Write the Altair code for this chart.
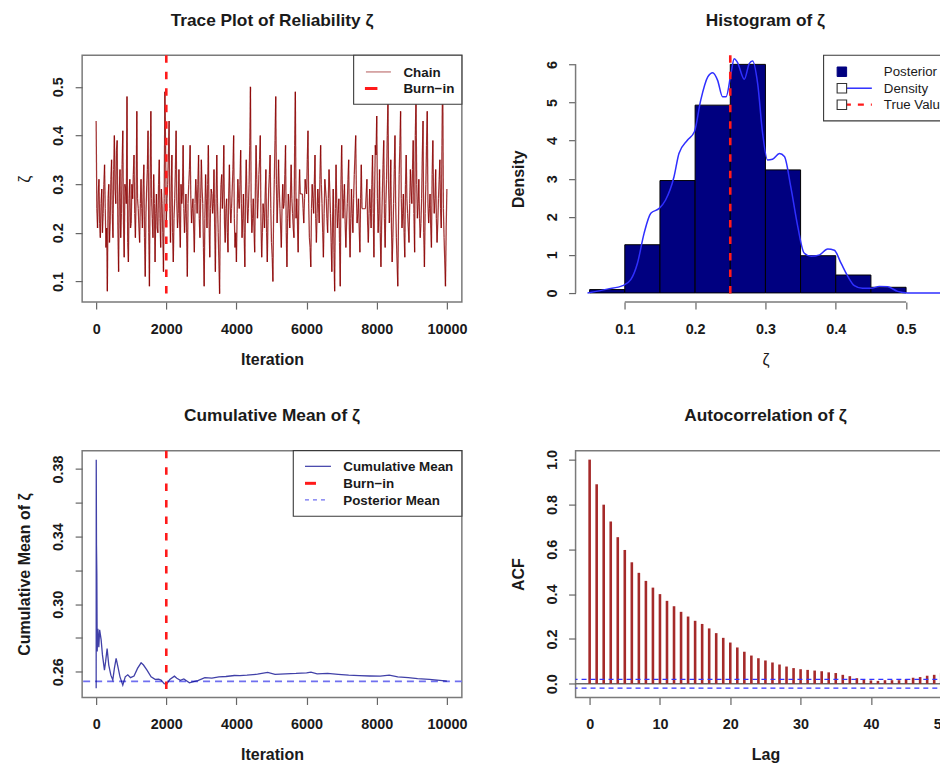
import altair as alt
import pandas as pd

FONT = "Liberation Sans"
TXT = "#1a1a1a"
BOX = "#7a7a7a"

# ---------------- data ----------------
trace_iterations = list(range(0, 10001, 20))
trace_values = [
    0.43, 0.25, 0.21, 0.28, 0.31, 0.22, 0.19, 0.26, 0.29, 0.20, 0.24, 0.30, 0.34, 0.25, 0.17, 0.21, 0.08, 0.27, 0.30, 0.18, 0.22, 0.31, 0.35, 0.24, 0.19,
    0.33, 0.40, 0.29, 0.26, 0.37, 0.39, 0.21, 0.12, 0.28, 0.33, 0.19, 0.24, 0.34, 0.41, 0.22, 0.15, 0.30, 0.29, 0.26, 0.48, 0.18, 0.14, 0.27, 0.31, 0.21,
    0.22, 0.30, 0.27, 0.32, 0.36, 0.24, 0.19, 0.28, 0.45, 0.27, 0.25, 0.21, 0.18, 0.26, 0.31, 0.25, 0.21, 0.29, 0.34, 0.19, 0.11, 0.24, 0.29, 0.33, 0.41,
    0.20, 0.09, 0.31, 0.45, 0.27, 0.23, 0.19, 0.32, 0.26, 0.14, 0.24, 0.28, 0.21, 0.20, 0.30, 0.35, 0.23, 0.17, 0.29, 0.26, 0.20, 0.12, 0.27, 0.49, 0.38,
    0.22, 0.27, 0.30, 0.36, 0.43, 0.25, 0.18, 0.29, 0.36, 0.20, 0.14, 0.23, 0.27, 0.33, 0.41, 0.26, 0.21, 0.24, 0.33, 0.22, 0.17, 0.30, 0.26, 0.28, 0.38,
    0.25, 0.20, 0.24, 0.28, 0.20, 0.11, 0.26, 0.30, 0.33, 0.38, 0.27, 0.22, 0.25, 0.27, 0.21, 0.16, 0.26, 0.31, 0.28, 0.24, 0.30, 0.36, 0.23, 0.19, 0.27,
    0.35, 0.29, 0.26, 0.17, 0.09, 0.23, 0.32, 0.27, 0.21, 0.30, 0.38, 0.22, 0.15, 0.25, 0.29, 0.28, 0.24, 0.26, 0.33, 0.21, 0.12, 0.27, 0.36, 0.26, 0.20,
    0.14, 0.075, 0.24, 0.30, 0.32, 0.25, 0.29, 0.38, 0.22, 0.18, 0.25, 0.27, 0.20, 0.16, 0.28, 0.34, 0.26, 0.22, 0.25, 0.29, 0.33, 0.40, 0.23, 0.17, 0.20,
    0.14, 0.24, 0.31, 0.27, 0.25, 0.30, 0.37, 0.26, 0.19, 0.23, 0.28, 0.20, 0.13, 0.29, 0.35, 0.27, 0.22, 0.25, 0.30, 0.38, 0.50, 0.26, 0.20, 0.23, 0.27,
    0.21, 0.16, 0.29, 0.38, 0.31, 0.23, 0.27, 0.32, 0.35, 0.40, 0.22, 0.15, 0.20, 0.26, 0.24, 0.21, 0.28, 0.33, 0.20, 0.14, 0.23, 0.29, 0.32, 0.36, 0.25,
    0.18, 0.15, 0.10, 0.24, 0.31, 0.39, 0.48, 0.30, 0.22, 0.27, 0.35, 0.29, 0.25, 0.21, 0.17, 0.25, 0.30, 0.25, 0.26, 0.32, 0.38, 0.20, 0.13, 0.23, 0.28,
    0.25, 0.21, 0.28, 0.34, 0.27, 0.24, 0.21, 0.19, 0.38, 0.49, 0.23, 0.27, 0.22, 0.16, 0.27, 0.33, 0.28, 0.28, 0.28, 0.28, 0.25, 0.22, 0.27, 0.31, 0.29,
    0.28, 0.35, 0.41, 0.26, 0.19, 0.17, 0.13, 0.25, 0.30, 0.27, 0.24, 0.30, 0.36, 0.23, 0.18, 0.24, 0.29, 0.26, 0.22, 0.31, 0.38, 0.30, 0.26, 0.20, 0.15,
    0.24, 0.31, 0.29, 0.27, 0.23, 0.20, 0.27, 0.33, 0.29, 0.24, 0.18, 0.12, 0.22, 0.29, 0.16, 0.08, 0.25, 0.34, 0.26, 0.21, 0.24, 0.27, 0.18, 0.09, 0.30,
    0.38, 0.29, 0.23, 0.27, 0.30, 0.22, 0.17, 0.22, 0.26, 0.31, 0.35, 0.21, 0.15, 0.23, 0.29, 0.24, 0.20, 0.27, 0.32, 0.36, 0.40, 0.28, 0.22, 0.24, 0.27,
    0.21, 0.16, 0.27, 0.34, 0.25, 0.25, 0.25, 0.25, 0.25, 0.25, 0.28, 0.31, 0.22, 0.18, 0.24, 0.29, 0.25, 0.21, 0.30, 0.36, 0.24, 0.15, 0.29, 0.38, 0.36,
    0.44, 0.27, 0.20, 0.24, 0.33, 0.20, 0.13, 0.22, 0.28, 0.34, 0.39, 0.23, 0.17, 0.26, 0.31, 0.40, 0.47, 0.29, 0.22, 0.27, 0.35, 0.21, 0.14, 0.19, 0.26,
    0.33, 0.40, 0.26, 0.19, 0.14, 0.09, 0.22, 0.32, 0.38, 0.45, 0.27, 0.21, 0.24, 0.28, 0.20, 0.15, 0.30, 0.36, 0.27, 0.24, 0.21, 0.18, 0.26, 0.33, 0.29,
    0.26, 0.33, 0.39, 0.24, 0.16, 0.40, 0.48, 0.30, 0.23, 0.26, 0.31, 0.23, 0.19, 0.22, 0.27, 0.36, 0.43, 0.20, 0.13, 0.24, 0.30, 0.38, 0.45, 0.26, 0.22,
    0.25, 0.28, 0.21, 0.17, 0.32, 0.39, 0.28, 0.24, 0.27, 0.33, 0.23, 0.18, 0.22, 0.27, 0.31, 0.35, 0.25, 0.21, 0.38, 0.55, 0.25, 0.19, 0.14, 0.09, 0.21,
    0.29,
]
burn_in = [2000]

cm_iterations = [
    1, 3, 10, 20, 30, 50, 76, 100, 142, 180, 237, 270, 313, 360, 420, 475, 520, 570, 620, 680,
    760, 830, 902, 980, 1080, 1180, 1282, 1350, 1450, 1567, 1680, 1780, 1852, 1940, 2013, 2100,
    2232, 2300, 2400, 2500, 2660, 2750, 2900, 3100, 3300, 3500, 3700, 3941, 4100, 4300, 4600,
    4890, 5100, 5400, 5700, 6000, 6125, 6300, 6600, 6900, 7200, 7500, 7800, 8100, 8357, 8600,
    8900, 9164, 9500, 9800, 10000,
]
cm_values = [
    0.2502, 0.3855, 0.3350, 0.3180, 0.2720, 0.2855, 0.2745, 0.2848, 0.2790, 0.2700, 0.2610, 0.2660,
    0.2738, 0.2640, 0.2580, 0.2551, 0.2620, 0.2679, 0.2630, 0.2570, 0.2521, 0.2570, 0.2582, 0.2565,
    0.2575, 0.2620, 0.2653, 0.2640, 0.2610, 0.2570, 0.2555, 0.2556, 0.2551, 0.2530, 0.2527, 0.2555,
    0.2574, 0.2562, 0.2550, 0.2558, 0.2535, 0.2540, 0.2548, 0.2565, 0.2563, 0.2570, 0.2572, 0.2578,
    0.2577, 0.2580, 0.2586, 0.2596, 0.2585, 0.2588, 0.2590, 0.2594, 0.2598, 0.2588, 0.2591, 0.2585,
    0.2580, 0.2577, 0.2575, 0.2574, 0.2580, 0.2570, 0.2566, 0.2560, 0.2555, 0.2549, 0.2545,
]
posterior_mean = [0.2543]

hist_lo = [0.05, 0.10, 0.15, 0.20, 0.25, 0.30, 0.35, 0.40, 0.45]
hist_hi = [0.10, 0.15, 0.20, 0.25, 0.30, 0.35, 0.40, 0.45, 0.50]
hist_density = [0.087, 1.265, 2.95, 4.93, 6.0, 3.23, 0.977, 0.47, 0.148]
dens_x = [0.047, 0.075, 0.097, 0.1085, 0.118, 0.1275, 0.137, 0.149, 0.158, 0.170, 0.177, 0.189,
          0.199, 0.208, 0.218, 0.225, 0.232, 0.239, 0.244, 0.251, 0.2556, 0.260, 0.270, 0.277,
          0.2817, 0.289, 0.296, 0.303, 0.310, 0.320, 0.327, 0.336, 0.346, 0.355, 0.365, 0.377,
          0.3885, 0.398, 0.4075, 0.417, 0.4265, 0.438, 0.450, 0.462, 0.474, 0.488, 0.502, 0.57]
dens_y = [0.0, 0.10, 0.19, 0.35, 0.78, 1.57, 2.09, 2.22, 2.44, 3.05, 3.66, 4.01,
          4.23, 5.06, 5.67, 5.78, 5.58, 5.15, 5.15, 5.76, 6.15, 6.06, 5.61, 6.02,
          6.09, 5.49, 4.19, 3.49, 3.51, 3.66, 3.58, 2.79, 1.74, 1.05, 0.96, 1.00,
          1.15, 1.12, 0.78, 0.44, 0.19, 0.12, 0.12, 0.17, 0.16, 0.04, 0.0, 0.0]
true_value = [0.25]

acf_lags = list(range(0, 51))
acf_values = [1.0, 0.890, 0.799, 0.724, 0.654, 0.597, 0.542, 0.495, 0.459, 0.429, 0.400, 0.370,
              0.346, 0.321, 0.300, 0.281, 0.267, 0.247, 0.226, 0.205, 0.184, 0.162, 0.143, 0.126,
              0.114, 0.104, 0.095, 0.086, 0.077, 0.070, 0.065, 0.062, 0.059, 0.056, 0.051, 0.048,
              0.040, 0.034, 0.025, 0.019, 0.015, 0.013, 0.016, 0.016, 0.016, 0.021, 0.027, 0.030,
              0.036, 0.040, 0.048]
acf_bounds = [0.0196, -0.0196]

iter_ticks = [0, 2000, 4000, 6000, 8000, 10000]
trace_y_ticks = [0.1, 0.2, 0.3, 0.4, 0.5]
hist_x_ticks = [0.1, 0.2, 0.3, 0.4, 0.5]
hist_y_ticks = [0, 1, 2, 3, 4, 5, 6]
cm_y_ticks = [0.26, 0.28, 0.30, 0.32, 0.34, 0.36, 0.38]
cm_y_labelled = ["0.26", "0.30", "0.34", "0.38"]
acf_x_ticks = [0, 10, 20, 30, 40, 50]
acf_y_ticks = [0.0, 0.2, 0.4, 0.6, 0.8, 1.0]

# ---------------- frames ----------------
trace_df = pd.DataFrame({
    "it": trace_iterations[:-1], "v": trace_values[:-1],
    "it2": trace_iterations[1:], "v2": trace_values[1:],
})
cm_df = pd.DataFrame({"it": cm_iterations, "v": cm_values})
hist_df = pd.DataFrame({"lo": hist_lo, "hi": hist_hi, "d": hist_density})
dens_df = pd.DataFrame({"x": dens_x, "y": dens_y})
acf_df = pd.DataFrame({"lag": acf_lags, "acf": acf_values})
one = pd.DataFrame({"k": [0]})

W, H = 380, 247


def xaxis(values, fmt, title, weight="bold"):
    return alt.Axis(values=values, format=fmt, title=title, grid=False, domain=False,
                    tickSize=7, tickColor="#666", tickWidth=1.2,
                    labelFont=FONT, labelFontSize=14.4, labelFontWeight="bold", labelColor=TXT,
                    labelBaseline="alphabetic", labelAlign="center", labelAngle=0,
                    labelPadding=24, labelFlush=False, labelOverlap=False, labelBound=False,
                    titleFont=FONT, titleFontSize=16, titleFontWeight=weight, titleColor=TXT,
                    titleBaseline="alphabetic", titlePadding=28.8)


def yaxis(values, fmt, title, weight="bold", label_expr=None):
    kw = {}
    if label_expr:
        kw["labelExpr"] = label_expr
    return alt.Axis(values=values, format=fmt, title=title, grid=False, domain=False,
                    tickSize=7, tickColor="#666", tickWidth=1.2,
                    labelFont=FONT, labelFontSize=14.4, labelFontWeight="bold", labelColor=TXT,
                    labelBaseline="alphabetic", labelAlign="center", labelAngle=-90,
                    labelPadding=12.3, labelFlush=False, labelOverlap=False, labelBound=False,
                    titleFont=FONT, titleFontSize=16, titleFontWeight=weight, titleColor=TXT,
                    titleAngle=-90, titleBaseline="alphabetic", titlePadding=21.2, **kw)


def ptitle(text):
    return alt.TitleParams(text=text, anchor="middle", frame="group", font=FONT, fontSize=17.3,
                           fontWeight="bold", color=TXT, baseline="alphabetic", offset=11)


def lg_box(x1, x2, y1, y2):
    return alt.Chart(one).mark_rect(fill="white", stroke="#3a3a3a", strokeWidth=1.1).encode(
        x=alt.value(x1), x2=alt.value(x2), y=alt.value(y1), y2=alt.value(y2))


def lg_line(x1, x2, y, color, width, dash=None, opacity=1.0, offset=0):
    kw = dict(color=color, strokeWidth=width, opacity=opacity, strokeCap="butt")
    if dash:
        kw["strokeDash"] = dash
        kw["strokeDashOffset"] = offset
    return alt.Chart(one).mark_rule(**kw).encode(x=alt.value(x1), x2=alt.value(x2), y=alt.value(y))


def lg_text(txt, x, y, weight="bold", size=13.4):
    return alt.Chart(pd.DataFrame({"t": [txt]})).mark_text(
        align="left", baseline="alphabetic", font=FONT, fontSize=size, fontWeight=weight, color=TXT
    ).encode(text="t:N", x=alt.value(x), y=alt.value(y))


def lg_square(x, y, filled):
    if filled:
        m = alt.Chart(one).mark_square(size=90, filled=True, color="#000080", stroke="#000080",
                                       strokeWidth=1, opacity=1)
    else:
        m = alt.Chart(one).mark_square(size=90, filled=True, color="white", stroke="#333",
                                       strokeWidth=1.1, opacity=1)
    return m.encode(x=alt.value(x), y=alt.value(y))


BOXVIEW = alt.ViewBackground(stroke=BOX, strokeWidth=1.5, fill="white")
NOVIEW = alt.ViewBackground(strokeOpacity=0, strokeWidth=0, fill="white")

# ---------------- panel 1: trace ----------------
sx1 = alt.Scale(domain=[-399, 10427], nice=False, zero=False)
sy1 = alt.Scale(domain=[0.0577, 0.565], nice=False, zero=False)
ax1 = xaxis(iter_ticks, "d", "Iteration")
ay1 = yaxis(trace_y_ticks, ".1f", "ζ", weight="normal")

trace = alt.Chart(trace_df).mark_rule(color="#8B0000", opacity=0.8, strokeWidth=1.25).encode(
    x=alt.X("it:Q", scale=sx1, axis=ax1), x2="it2:Q",
    y=alt.Y("v:Q", scale=sy1, axis=ay1), y2="v2:Q")
burn1 = alt.Chart(pd.DataFrame({"b": burn_in})).mark_rule(
    color="#FF1A1A", strokeWidth=2.6, strokeDash=[7.5, 9]).encode(x=alt.X("b:Q", scale=sx1, axis=ax1))

p1 = alt.layer(
    trace, burn1,
    lg_box(271.7, 380, 0, 49),
    lg_line(284, 309, 16.7, "#8B0000", 1.2, opacity=0.55),
    lg_text("Chain", 321.5, 21.7),
    lg_line(283, 295.5, 33.3, "#FF1A1A", 3),
    lg_text("Burn\u2212in", 321.5, 37.8),
).properties(width=W, height=H, title=ptitle("Trace Plot of Reliability ζ"), view=BOXVIEW)

# ---------------- panel 2: histogram ----------------
sx2 = alt.Scale(domain=[0.03, 0.57], nice=False, zero=False)
sy2 = alt.Scale(domain=[-0.24, 6.24], nice=False, zero=False)
ax2 = xaxis(hist_x_ticks, ".1f", "ζ", weight="normal")
ay2 = yaxis(hist_y_ticks, "d", "Density")

bars = alt.Chart(hist_df).mark_rect(fill="#000080", stroke="#000000", strokeWidth=1).encode(
    x=alt.X("lo:Q", scale=sx2, axis=ax2), x2="hi:Q",
    y=alt.Y("d:Q", scale=sy2, axis=ay2), y2=alt.datum(0))
dens = alt.Chart(dens_df).mark_line(color="#2f2fff", strokeWidth=1.5, interpolate="monotone").encode(
    x=alt.X("x:Q", scale=sx2, axis=ax2), y=alt.Y("y:Q", scale=sy2, axis=ay2))
tv = alt.Chart(pd.DataFrame({"t": true_value})).mark_rule(
    color="#FF1A1A", strokeWidth=2.6, strokeDash=[7.5, 9]).encode(x=alt.X("t:Q", scale=sx2, axis=ax2))
yline2 = alt.Chart(one).mark_rule(color=BOX, strokeWidth=1.5).encode(
    x=alt.datum(sx2.domain[0]), y=alt.datum(hist_y_ticks[0]), y2=alt.datum(hist_y_ticks[-1]))
xline2 = alt.Chart(one).mark_rule(color=BOX, strokeWidth=1.5).encode(
    x=alt.datum(hist_x_ticks[0]), x2=alt.datum(hist_x_ticks[-1]), y=alt.datum(sy2.domain[0]))

p2 = alt.layer(
    bars, dens, tv, yline2, xline2,
    lg_box(248.2, 380, 0, 65.7),
    lg_square(266.5, 16.5, True),
    lg_text("Posterior", 308.5, 21.2, weight="normal", size=13.3),
    lg_line(271.5, 296.5, 33, "#2f2fff", 1.5),
    lg_square(266.5, 33, False),
    lg_text("Density", 308.5, 37.7, weight="normal", size=13.3),
    lg_line(271.5, 296.5, 49.5, "#FF1A1A", 2.2, dash=[6, 7], offset=2),
    lg_square(266.5, 49.5, False),
    lg_text("True Value", 308.5, 54.2, weight="normal", size=13.3),
).properties(width=W, height=H, title=ptitle("Histogram of ζ"), view=NOVIEW)

# ---------------- panel 3: cumulative mean ----------------
sx3 = alt.Scale(domain=[-399, 10427], nice=False, zero=False)
sy3 = alt.Scale(domain=[0.2448, 0.3909], nice=False, zero=False)
ax3 = xaxis(iter_ticks, "d", "Iteration")
lbl_expr = ("indexof(" + str(cm_y_labelled) + ", format(datum.value, '.2f')) >= 0 ? "
            "format(datum.value, '.2f') : ''")
ay3 = yaxis(cm_y_ticks, ".2f", "Cumulative Mean of ζ", label_expr=lbl_expr)

cm = alt.Chart(cm_df).mark_line(color="#00008B", opacity=0.75, strokeWidth=1.3).encode(
    x=alt.X("it:Q", scale=sx3, axis=ax3), y=alt.Y("v:Q", scale=sy3, axis=ay3))
burn3 = alt.Chart(pd.DataFrame({"b": burn_in})).mark_rule(
    color="#FF1A1A", strokeWidth=2.6, strokeDash=[7.5, 9]).encode(x=alt.X("b:Q", scale=sx3, axis=ax3))
pm = alt.Chart(pd.DataFrame({"m": posterior_mean})).mark_rule(
    color="#6f6ff0", strokeWidth=1.8, strokeDash=[7, 5]).encode(y=alt.Y("m:Q", scale=sy3, axis=ay3))

p3 = alt.layer(
    pm, cm, burn3,
    lg_box(211.3, 380, 0, 65.7),
    lg_line(223, 249, 15.7, "#00008B", 1.3, opacity=0.7),
    lg_text("Cumulative Mean", 261.3, 20.7),
    lg_line(223, 234, 32.7, "#FF1A1A", 3),
    lg_text("Burn\u2212in", 261.3, 37.7),
    lg_line(223, 246, 49.3, "#6f6ff0", 1.2, dash=[4, 4]),
    lg_text("Posterior Mean", 261.3, 54.3),
).properties(width=W, height=H, title=ptitle("Cumulative Mean of ζ"), view=BOXVIEW)

# ---------------- panel 4: ACF ----------------
sx4 = alt.Scale(domain=[-2, 52], nice=False, zero=False)
sy4 = alt.Scale(domain=[-0.061, 1.040], nice=False, zero=False)
ax4 = xaxis(acf_x_ticks, "d", "Lag")
ay4 = yaxis(acf_y_ticks, ".1f", "ACF")

zero4 = alt.Chart(pd.DataFrame({"z": [0.0]})).mark_rule(color="#6a6a6a", strokeWidth=1.5).encode(
    y=alt.Y("z:Q", scale=sy4, axis=ay4))
acfbars = alt.Chart(acf_df).mark_rule(color="#A52A2A", strokeWidth=2.6, strokeCap="butt").encode(
    x=alt.X("lag:Q", scale=sx4, axis=ax4), y=alt.Y("acf:Q", scale=sy4, axis=ay4), y2=alt.datum(0))
ci = alt.Chart(pd.DataFrame({"c": acf_bounds})).mark_rule(
    color="#3333ff", strokeWidth=1.3, strokeDash=[5, 4]).encode(y=alt.Y("c:Q", scale=sy4, axis=ay4))

p4 = alt.layer(zero4, acfbars, ci).properties(
    width=W, height=H, title=ptitle("Autocorrelation of ζ"), view=BOXVIEW)

chart = alt.concat(p1, p2, p3, p4, columns=2, spacing={"row": 37.7, "column": 40.8}).properties(
    padding={"left": 7.2, "top": 2, "right": -18.5, "bottom": 1.6},
    background="white",
)

chart.save("out.html", embed_options={"renderer": "svg", "actions": False})
